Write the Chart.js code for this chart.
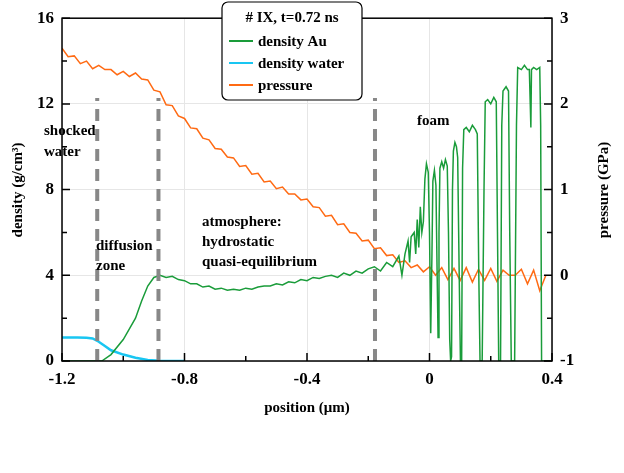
<!DOCTYPE html>
<html><head><meta charset="utf-8">
<script src="https://cdn.jsdelivr.net/npm/chart.js@4"></script>
<style>html,body{margin:0;padding:0;background:#fff}#w{width:624px;height:473px}</style>
</head><body><div id="w"><canvas id="c"></canvas></div>
<script>
const xTicks=[-1.2,-0.8,-0.4,0,0.4];
const densityTicks=[0,4,8,12,16];
const pressureTicks=[-1,0,1,2,3];
const pressureX=[-1.20,-1.18,-1.16,-1.14,-1.12,-1.10,-1.08,-1.06,-1.04,-1.02,-1.00,-0.98,-0.96,-0.94,-0.92,-0.90,-0.88,-0.86,-0.84,-0.82,-0.80,-0.78,-0.76,-0.74,-0.72,-0.70,-0.68,-0.66,-0.64,-0.62,-0.60,-0.58,-0.56,-0.54,-0.52,-0.50,-0.48,-0.46,-0.44,-0.42,-0.40,-0.38,-0.36,-0.34,-0.32,-0.30,-0.28,-0.26,-0.24,-0.22,-0.20,-0.18,-0.16,-0.14,-0.12,-0.10,-0.08,-0.06,-0.04,-0.02,0.00,0.02,0.04,0.06,0.08,0.10,0.12,0.14,0.16,0.18,0.20,0.22,0.24,0.26,0.28,0.30,0.32,0.34,0.36,0.38];
const pressureY=[2.65,2.55,2.56,2.47,2.50,2.41,2.45,2.40,2.40,2.34,2.38,2.32,2.36,2.29,2.28,2.16,2.14,1.99,1.98,1.86,1.83,1.72,1.71,1.60,1.58,1.48,1.47,1.38,1.37,1.27,1.28,1.18,1.19,1.09,1.10,1.01,1.03,0.95,0.95,0.88,0.89,0.80,0.79,0.69,0.70,0.59,0.60,0.50,0.49,0.40,0.41,0.31,0.32,0.23,0.24,0.15,0.17,0.09,0.12,0.04,0.10,0.00,0.09,-0.05,0.08,-0.06,0.09,-0.08,0.07,-0.06,0.08,-0.07,0.06,0.00,0.00,0.07,-0.10,0.06,-0.18,0.00];
const auX=[-1.2,-1.07,-1.04,-1.0,-0.96,-0.94,-0.92,-0.90,-0.88,-0.86,-0.84,-0.82,-0.80,-0.78,-0.76,-0.74,-0.72,-0.70,-0.68,-0.66,-0.64,-0.62,-0.60,-0.58,-0.56,-0.54,-0.52,-0.50,-0.48,-0.46,-0.44,-0.42,-0.40,-0.38,-0.36,-0.34,-0.32,-0.30,-0.28,-0.26,-0.24,-0.22,-0.20,-0.18,-0.16,-0.14,-0.12,-0.10,-0.09,-0.08,-0.07,-0.065,-0.06,-0.05,-0.045,-0.04,-0.035,-0.03,-0.025,-0.02,-0.015,-0.01,-0.004,0.0,0.004,0.008,0.011,0.016,0.021,0.025,0.028,0.031,0.034,0.04,0.046,0.052,0.058,0.062,0.066,0.069,0.072,0.075,0.078,0.083,0.088,0.092,0.097,0.101,0.105,0.108,0.112,0.12,0.13,0.14,0.15,0.156,0.161,0.165,0.172,0.178,0.182,0.19,0.2,0.21,0.218,0.222,0.226,0.232,0.236,0.24,0.25,0.258,0.262,0.267,0.278,0.284,0.288,0.3,0.31,0.32,0.326,0.329,0.331,0.333,0.34,0.35,0.36,0.363,0.366,0.393];
const auY=[0,0,0.3,1.0,2.0,2.8,3.5,3.9,4.0,3.9,3.95,3.8,3.75,3.6,3.6,3.45,3.5,3.35,3.4,3.3,3.35,3.3,3.4,3.35,3.45,3.5,3.5,3.6,3.55,3.7,3.65,3.8,3.75,3.9,3.85,3.95,4.0,3.9,4.1,4.0,4.2,4.1,4.3,4.4,4.2,4.6,4.4,4.9,4.0,5.0,5.6,4.6,5.8,6.0,5.0,6.6,5.3,7.2,6.0,6.5,8.5,9.2,8.8,6,1.3,5,8.4,8.9,8.2,4,1.1,6,9.0,9.3,9.0,9.4,9.1,6,1,0,0.2,8,9.8,10.2,10.0,9.5,4,0,0,9,10.8,10.9,10.7,11.0,10.8,10.6,4,0,0,8,12.1,12.2,12.0,12.3,12.1,6,0,0,11,12.6,12.8,12.6,6,0,0,11,13.7,13.6,13.8,13.6,13.6,12,10.9,13.6,13.7,13.6,13.7,11,0,0];
const waterX=[-1.2,-1.15,-1.12,-1.1,-1.08,-1.06,-1.04,-1.0,-0.96,-0.92,-0.88,-0.8];
const waterY=[1.1,1.1,1.08,1.05,0.9,0.7,0.5,0.3,0.15,0.05,0.01,0.0];
const dashX=[-1.085,-0.885,-0.178];
const F='"Liberation Serif", serif';
const xy=(X,Y)=>X.map((x,i)=>({x,y:Y[i]}));
const deco={id:'deco',
 afterDatasetsDraw(ch){const c=ch.ctx,a=ch.chartArea,sx=ch.scales.x,sy=ch.scales.y,sp=ch.scales.y1;
  c.save();
  c.strokeStyle='#888';c.lineWidth=4;c.setLineDash([12,8]);
  dashX.forEach(v=>{const p=sx.getPixelForValue(v);c.beginPath();c.moveTo(p,a.bottom);c.lineTo(p,98);c.stroke();});
  c.setLineDash([]);c.strokeStyle='#000';c.lineWidth=1.5;
  c.strokeRect(a.left,a.top,a.right-a.left,a.bottom-a.top);
  c.beginPath();
  for(let v=-1.2;v<=0.41;v+=0.2){const p=sx.getPixelForValue(v);const L=Math.abs(Math.round(v*10)%4)===0?8:5;c.moveTo(p,a.bottom);c.lineTo(p,a.bottom-L);}
  for(let v=0;v<=16;v+=2){const p=sy.getPixelForValue(v);const L=v%4===0?8:5;c.moveTo(a.left,p);c.lineTo(a.left+L,p);}
  for(let v=-1;v<=3;v+=0.5){const p=sp.getPixelForValue(v);const L=Number.isInteger(v)?8:5;c.moveTo(a.right,p);c.lineTo(a.right-L,p);}
  c.stroke();
  c.fillStyle='#000';c.font='bold 15px '+F;c.textAlign='left';c.textBaseline='alphabetic';
  [['shocked',44,135],['water',44,156],['diffusion',96,250],['zone',96,270],['atmosphere:',202,226],['hydrostatic',202,246],['quasi-equilibrium',202,266],['foam',417,125]].forEach(t=>c.fillText(t[0],t[1],t[2]));
  // axis titles
  c.textAlign='center';c.textBaseline='middle';
  c.fillText('position (μm)',(a.left+a.right)/2,408);
  c.save();c.translate(18,190);c.rotate(-Math.PI/2);c.fillText('density (g/cm³)',0,0);c.restore();
  c.save();c.translate(604,190);c.rotate(-Math.PI/2);c.fillText('pressure (GPa)',0,0);c.restore();
  c.textBaseline='alphabetic';
  // legend
  c.fillStyle='#fff';c.strokeStyle='#000';c.lineWidth=1.2;
  c.beginPath();c.roundRect(222,2,140,98,6);c.fill();c.stroke();
  c.fillStyle='#000';c.textAlign='center';c.fillText('# IX, t=0.72 ns',292,22);
  c.textAlign='left';
  [['density Au','#1a9c3a',46],['density water','#19c6f2',68],['pressure','#ff6a13',90]].forEach(e=>{
   c.strokeStyle=e[1];c.lineWidth=2;c.beginPath();c.moveTo(229,e[2]-5);c.lineTo(253,e[2]-5);c.stroke();
   c.fillStyle='#000';c.fillText(e[0],258,e[2]);});
  c.restore();}};
const gridCol=(ticks)=>ctx=>ticks.includes(ctx.tick.value)?'#e6e6e6':'rgba(0,0,0,0)';
new Chart(document.getElementById('c'),{type:'line',
 data:{datasets:[
  {label:'density Au',data:xy(auX,auY),borderColor:'#1a9c3a',borderWidth:1.5,pointRadius:0,yAxisID:'y'},
  {label:'density water',data:xy(waterX,waterY),borderColor:'#19c6f2',borderWidth:2.5,pointRadius:0,yAxisID:'y'},
  {label:'pressure',data:xy(pressureX,pressureY),borderColor:'#ff6a13',borderWidth:1.5,pointRadius:0,yAxisID:'y1'}]},
 options:{responsive:true,maintainAspectRatio:false,animation:false,
  layout:{padding:{top:18,left:0,right:0,bottom:0}},
  plugins:{legend:{display:false},tooltip:{enabled:false}},
  scales:{
   x:{type:'linear',min:-1.2,max:0.4,afterBuildTicks:s=>{s.ticks=xTicks.map(v=>({value:v}))},
    afterFit:s=>{s.height=112},
    grid:{color:gridCol(xTicks),drawTicks:false,drawOnChartArea:true},border:{display:false},
    ticks:{padding:8,color:'#000',font:{family:F,size:17,weight:'bold'},callback:v=>v===0?'0':String(v)}},
   y:{min:0,max:16,position:'left',afterBuildTicks:s=>{s.ticks=densityTicks.map(v=>({value:v}))},
    afterFit:s=>{s.width=62},
    grid:{color:gridCol(densityTicks),drawTicks:false},border:{display:false},
    ticks:{padding:8,color:'#000',font:{family:F,size:17,weight:'bold'}}},
   y1:{min:-1,max:3,position:'right',afterBuildTicks:s=>{s.ticks=pressureTicks.map(v=>({value:v}))},
    afterFit:s=>{s.width=72},
    grid:{drawOnChartArea:false,drawTicks:false},border:{display:false},
    ticks:{padding:8,color:'#000',font:{family:F,size:17,weight:'bold'}}}}},
 plugins:[deco]});
</script></body></html>
